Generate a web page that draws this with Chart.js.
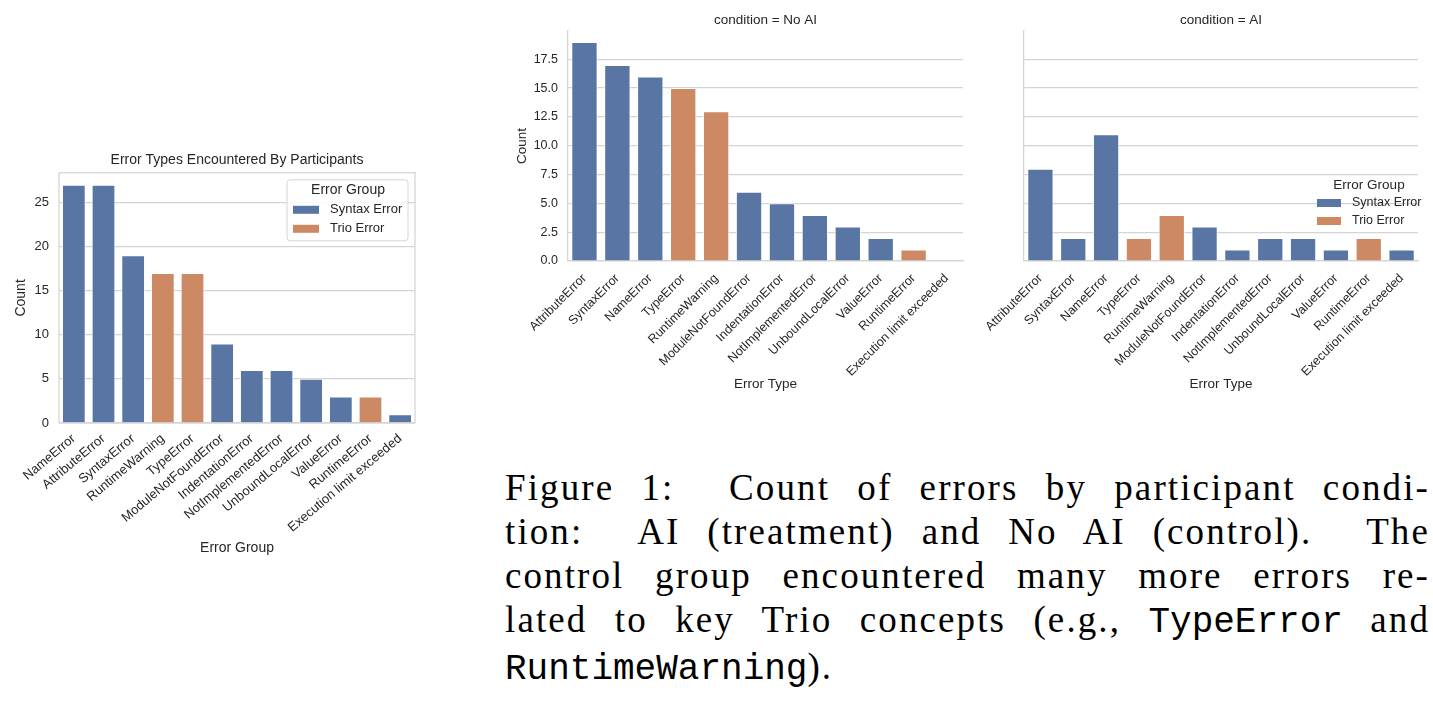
<!DOCTYPE html>
<html lang="en">
<head>
<meta charset="UTF-8">
<title>Error types by condition</title>
<script src="https://cdn.jsdelivr.net/npm/chart.js@4.4.0/dist/chart.umd.min.js"></script>
<style>
    * { margin: 0; padding: 0; box-sizing: border-box; }
    body { width: 1433px; height: 710px; background: #fff; position: relative; overflow: hidden; }
    .panel { position: absolute; }
    #overallBox { left: 0; top: 140px; width: 430px; height: 420px; }
    #noAiBox { left: 500px; top: 0; width: 475px; height: 400px; }
    #aiBox { left: 975px; top: 0; width: 458px; height: 400px; }
    .caption {
        position: absolute; left: 505px; top: 466px; width: 925px;
        font-family: 'Liberation Serif', 'DejaVu Serif', serif;
        font-size: 37px; line-height: 44px; color: #000;
        letter-spacing: 2.1px;
    }
    .caption div { text-align: justify; text-align-last: justify; }
    .caption div.last { text-align-last: left; }
    .caption code { font-family: 'Liberation Mono', 'DejaVu Sans Mono', monospace; font-size: 36px; letter-spacing: 0; }
</style>
</head>
<body>
<div class="panel" id="overallBox"><canvas id="overallChart"></canvas></div>
<div class="panel" id="noAiBox"><canvas id="noAiChart"></canvas></div>
<div class="panel" id="aiBox"><canvas id="aiChart"></canvas></div>

<div class="caption">
    <div>Figure 1: &nbsp;Count of errors by participant condi-</div>
    <div>tion: &nbsp;AI (treatment) and No AI (control). &nbsp;The</div>
    <div>control group encountered many more errors re-</div>
    <div>lated to key Trio concepts (e.g., <code>TypeError</code> and</div>
    <div class="last"><code>RuntimeWarning</code>).</div>
</div>

<script>
// ---- data ----
const overallLabels = ['NameError', 'AttributeError', 'SyntaxError', 'RuntimeWarning', 'TypeError',
    'ModuleNotFoundError', 'IndentationError', 'NotImplementedError', 'UnboundLocalError',
    'ValueError', 'RuntimeError', 'Execution limit exceeded'];
const overallCounts = [27, 27, 19, 17, 17, 9, 6, 6, 5, 3, 3, 1];

const facetLabels = ['AttributeError', 'SyntaxError', 'NameError', 'TypeError', 'RuntimeWarning',
    'ModuleNotFoundError', 'IndentationError', 'NotImplementedError', 'UnboundLocalError',
    'ValueError', 'RuntimeError', 'Execution limit exceeded'];
const noAiCounts = [19, 17, 16, 15, 13, 6, 5, 4, 3, 2, 1, 0];
const aiCounts = [8, 2, 11, 2, 4, 3, 1, 2, 2, 1, 2, 1];

const trioErrors = ['RuntimeWarning', 'TypeError', 'RuntimeError'];
const groupNames = ['Syntax Error', 'Trio Error'];
const groupColors = ['#5875a4', '#cc8963'];

const overallTicks = [0, 5, 10, 15, 20, 25];
const facetTicks = [0, 2.5, 5, 7.5, 10, 12.5, 15, 17.5];

// ---- style ----
const FONT = "'Liberation Sans', Arial, Helvetica, sans-serif";
const TEXT = '#262626';
const GRID = '#d4d4d4';

function barColors(labels) {
    return labels.map(l => trioErrors.includes(l) ? groupColors[1] : groupColors[0]);
}

// draws the "Error Group" legend relative to the chart area
function groupLegend(o) {
    return {
        id: 'groupLegend',
        afterDraw(chart) {
            const ctx = chart.ctx;
            const a = chart.chartArea;
            ctx.save();
            if (o.frame) {
                ctx.beginPath();
                ctx.roundRect(a.right - o.frame.r - o.frame.w, a.top + o.frame.t, o.frame.w, o.frame.h, 3);
                ctx.fillStyle = 'rgba(255,255,255,0.85)';
                ctx.fill();
                ctx.strokeStyle = GRID;
                ctx.lineWidth = 1;
                ctx.stroke();
            }
            ctx.textBaseline = 'middle';
            ctx.fillStyle = TEXT;
            ctx.textAlign = 'center';
            ctx.font = o.titleSize + 'px ' + FONT;
            ctx.fillText('Error Group', a.right - o.titleX, a.top + o.titleY);
            ctx.textAlign = 'left';
            ctx.font = o.size + 'px ' + FONT;
            groupNames.forEach((name, i) => {
                const y = a.top + o.rowY + i * o.rowGap;
                ctx.fillStyle = groupColors[i];
                ctx.fillRect(a.right - o.patchX, y - 4, o.patchW, 8);
                ctx.fillStyle = TEXT;
                ctx.fillText(name, a.right - o.textX, y);
            });
            ctx.restore();
        }
    };
}

const framePlugin = {
    id: 'frame',
    afterDatasetsDraw(chart) {
        const {ctx, chartArea: a} = chart;
        ctx.save();
        ctx.strokeStyle = GRID;
        ctx.lineWidth = 1.25;
        ctx.strokeRect(a.left, a.top, a.right - a.left, a.bottom - a.top);
        ctx.restore();
    }
};

function makeChart(id, o) {
    const ctx = document.getElementById(id).getContext('2d');
    return new Chart(ctx, {
        type: 'bar',
        data: {
            labels: o.labels,
            datasets: [{
                data: o.values,
                backgroundColor: barColors(o.labels),
                borderColor: 'rgba(255,255,255,0.85)',
                borderWidth: 1,
                barPercentage: 0.8,
                categoryPercentage: 1.0
            }]
        },
        options: {
            responsive: true,
            maintainAspectRatio: false,
            animation: false,
            layout: { padding: { left: 0, right: o.padRight, top: 0, bottom: 0 } },
            plugins: {
                legend: { display: false },
                tooltip: { enabled: false },
                title: {
                    display: true, text: o.title, fullSize: false, color: TEXT,
                    font: { family: FONT, size: o.titleSize, weight: 'normal' },
                    padding: o.titlePad
                }
            },
            scales: {
                x: {
                    afterFit: s => { s.height = o.xHeight; },
                    grid: { display: false, drawTicks: false },
                    border: { display: !o.frame, color: GRID, width: 1.25 },
                    ticks: {
                        autoSkip: false, minRotation: o.rot, maxRotation: o.rot, padding: o.xTickPad,
                        color: TEXT, font: { family: FONT, size: o.tickSize }
                    },
                    title: {
                        display: true, text: o.xTitle, color: TEXT,
                        font: { family: FONT, size: o.labelSize },
                        padding: { top: 0, bottom: o.xTitlePad }
                    }
                },
                y: {
                    min: 0,
                    max: o.yMax,
                    afterBuildTicks: s => { s.ticks = o.yTicks.map(v => ({ value: v })); },
                    afterFit: s => { s.width = o.yWidth; },
                    grid: { color: GRID, lineWidth: 1.25, drawTicks: false },
                    border: { display: !o.frame, color: GRID, width: 1.25 },
                    ticks: {
                        display: o.showYTicks, padding: 10, color: TEXT,
                        font: { family: FONT, size: o.tickSize },
                        callback: o.fmt
                    },
                    title: {
                        display: o.showYTicks, text: 'Count', color: TEXT,
                        font: { family: FONT, size: o.labelSize },
                        padding: { top: o.yTitlePad, bottom: 0 }
                    }
                }
            }
        },
        plugins: o.plugins
    });
}

const facetMax = Math.max(...noAiCounts, ...aiCounts) * 1.05;

makeChart('overallChart', {
    labels: overallLabels, values: overallCounts,
    title: 'Error Types Encountered By Participants', xTitle: 'Error Group',
    titleSize: 14, labelSize: 14, tickSize: 13, rot: 40, xTickPad: 8,
    titlePad: { top: 12, bottom: 4 }, padRight: 15,
    yWidth: 59, xHeight: 137, xTitlePad: 3.6, yTitlePad: 12.3,
    yMax: Math.max(...overallCounts) * 1.05, yTicks: overallTicks, fmt: v => v,
    showYTicks: true, frame: true,
    plugins: [framePlugin, groupLegend({
        frame: { r: 7, t: 7, w: 121, h: 61 },
        titleSize: 14, size: 13, titleX: 67, titleY: 17,
        patchX: 122, patchW: 26, textX: 85, rowY: 37, rowGap: 19
    })]
});

makeChart('noAiChart', {
    labels: facetLabels, values: noAiCounts,
    title: 'condition = No AI', xTitle: 'Error Type',
    titleSize: 13.5, labelSize: 13.5, tickSize: 12.5, rot: 45, xTickPad: 10,
    titlePad: { top: 12, bottom: 2.8 }, padRight: 12,
    yWidth: 68, xHeight: 139, xTitlePad: 7.2, yTitlePad: 14.2,
    yMax: facetMax, yTicks: facetTicks, fmt: v => v.toFixed(1),
    showYTicks: true, frame: false, plugins: []
});

makeChart('aiChart', {
    labels: facetLabels, values: aiCounts,
    title: 'condition = AI', xTitle: 'Error Type',
    titleSize: 13.5, labelSize: 13.5, tickSize: 12.5, rot: 45, xTickPad: 10,
    titlePad: { top: 12, bottom: 2.8 }, padRight: 15,
    yWidth: 49, xHeight: 139, xTitlePad: 7.2, yTitlePad: 0,
    yMax: facetMax, yTicks: facetTicks, fmt: v => v.toFixed(1),
    showYTicks: false, frame: false,
    plugins: [groupLegend({
        titleSize: 13.5, size: 12.5, titleX: 49, titleY: 154,
        patchX: 101, patchW: 24, textX: 66, rowY: 172, rowGap: 18
    })]
});
</script>
</body>
</html>
